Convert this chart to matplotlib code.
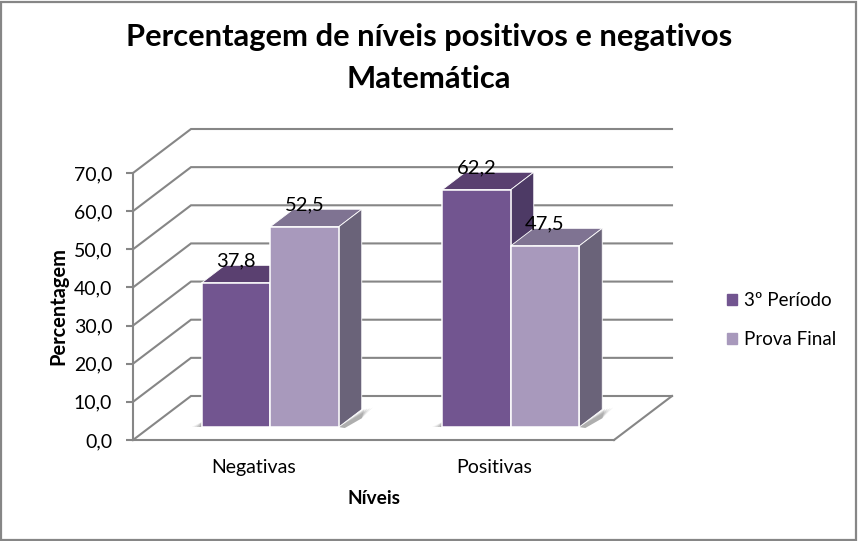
import matplotlib
matplotlib.use('Agg')
from matplotlib import pyplot as plt
from matplotlib.patches import Polygon, Rectangle
import numpy as np

categories = ['Negativas', 'Positivas']
periodo = [37.8, 62.2]
prova = [52.5, 47.5]
series_names = ['3º Período', 'Prova Final']
y_ticks = [0, 10, 20, 30, 40, 50, 60, 70]

plt.rcParams['font.family'] = ['Lato', 'DejaVu Sans']

W, H = 858, 541
GRID = '#868686'

# pixel sizes of the plot box, the fake 3d is worked out from them
left, right, bottom, top = 133, 614, 440, 173
px_x = 2 / (right - left)
px_y = 70 / (bottom - top)

wall_dx, wall_dy = 58 * px_x, 44 * px_y
bar_dx, bar_dy = 23 * px_x, 17.5 * px_y
shift_x, lift = 17 * px_x, 13 * px_y
width = 68.5 * px_x

fig = plt.figure(figsize=(W / 100, H / 100), dpi=100, facecolor='white')
fig.add_artist(Rectangle((1 / W, 1.5 / H), (W - 3) / W, (H - 3) / H, fill=False,
                         edgecolor=GRID, linewidth=1.6, transform=fig.transFigure))

ax = fig.add_axes([left / W, 1 - bottom / H, (right - left) / W, (bottom - top) / H])
ax.set_xlim(-0.5, 1.5)
ax.set_ylim(0, 70)
ax.patch.set_alpha(0)

# walls and floor
for v in y_ticks:
    ax.plot([-0.5, -0.5 + wall_dx, 1.5 + wall_dx], [v, v + wall_dy, v + wall_dy],
            color=GRID, lw=1.5, clip_on=False, zorder=1, solid_joinstyle='miter')
ax.plot([1.5, 1.5 + wall_dx], [0, wall_dy], color=GRID, lw=1.5, clip_on=False, zorder=1)


def draw_bars(values, offset, front, top_c, side, z):
    x = np.arange(len(values)) + shift_x + offset
    rects = ax.bar(x, values, width, bottom=lift, color=front, edgecolor='white',
                   linewidth=1.1, zorder=z + 0.2, clip_on=False)
    for r, v in zip(rects, values):
        x0, x1 = r.get_x(), r.get_x() + r.get_width()
        y1 = lift + v
        ax.add_patch(Polygon([(x0, y1), (x1, y1), (x1 + bar_dx, y1 + bar_dy), (x0 + bar_dx, y1 + bar_dy)],
                             facecolor=top_c, edgecolor='white', linewidth=0.6, zorder=z, clip_on=False))
        ax.add_patch(Polygon([(x1, lift), (x1, y1), (x1 + bar_dx, y1 + bar_dy), (x1 + bar_dx, lift + bar_dy)],
                             facecolor=side, edgecolor='white', linewidth=0.6, zorder=z, clip_on=False))
        ax.text((x0 + x1) / 2, y1 + 22 * px_y, str(v).replace('.', ','), ha='center', va='center',
                fontsize=14.5, color='black', zorder=10)


# soft shadow on the floor under each pair
for i in range(len(categories)):
    x0 = i + shift_x - width
    x1 = i + shift_x + width
    for grow, alpha in zip([1.0, 0.75, 0.5, 0.25], [0.08, 0.12, 0.16, 0.2]):
        ax.add_patch(Polygon([(x1, lift), (x1 + bar_dx + 11 * px_x * grow, lift + bar_dy + 2 * px_y * grow),
                              (x1 + bar_dx, lift + bar_dy * 0.5), (x1 + 6 * px_x, lift - 1 * px_y)],
                             facecolor='#505050', edgecolor='none', alpha=alpha, zorder=1.5, clip_on=False))
        ax.add_patch(Polygon([(x0, lift), (x0 - 10 * px_x * grow, lift), (x0, lift + 5 * px_y)],
                             facecolor='#505050', edgecolor='none', alpha=alpha, zorder=1.5, clip_on=False))

draw_bars(periodo, -width / 2, '#725590', '#5A4070', '#4D3A65', 2)
draw_bars(prova, width / 2, '#A899BC', '#7F7392', '#6A6379', 3)

for s in ['top', 'right']:
    ax.spines[s].set_visible(False)
for s in ['left', 'bottom']:
    ax.spines[s].set_color(GRID)
    ax.spines[s].set_linewidth(1.5)

ax.set_xticks(range(len(categories)))
ax.set_xticklabels(categories)
ax.set_yticks(y_ticks)
ax.set_yticklabels([f'{v:.1f}'.replace('.', ',') for v in y_ticks])
ax.tick_params(axis='x', length=0, pad=13.5, labelsize=14, colors='black')
ax.tick_params(axis='y', length=5, width=1.5, color=GRID, pad=10, labelsize=14, labelcolor='black')

fig.text(429 / W, 1 - 37 / H, 'Percentagem de níveis positivos e negativos', ha='center', va='center',
         fontsize=22.2, fontweight='bold')
fig.text(429 / W, 1 - 79 / H, 'Matemática', ha='center', va='center', fontsize=22.2, fontweight='bold')
fig.text(374 / W, 1 - 499 / H, 'Níveis', ha='center', va='center', fontsize=13.8, fontweight='bold')
fig.text(58 / W, 1 - 306 / H, 'Percentagem', rotation=90, ha='center', va='center',
         fontsize=14.4, fontweight='bold')

handles = [Rectangle((0, 0), 1, 1, color=c) for c in ['#725590', '#A899BC']]
fig.legend(handles, series_names, loc='center left', bbox_to_anchor=(727 / W, 1 - 320 / H), frameon=False,
           fontsize=13.5, handlelength=0.53, handleheight=0.53, handletextpad=0.37, labelspacing=1.2,
           borderpad=0, borderaxespad=0)

fig.savefig('out.png')
